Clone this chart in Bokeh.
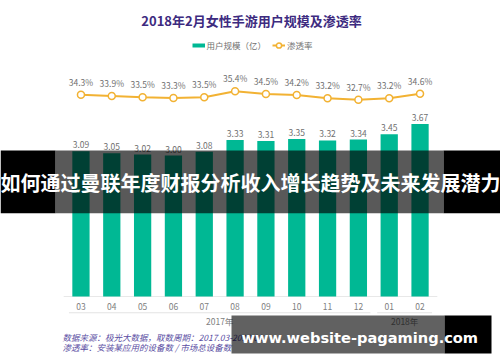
from bokeh.plotting import figure
from bokeh.models import (FactorRange, Range1d, ColumnDataSource, Label, BoxAnnotation,
                          Legend, LegendItem, GlobalInlineStyleSheet)
from bokeh.core.properties import value
from bokeh.embed import file_html
from bokeh.resources import INLINE

# ---------------- data ----------------
years = ["2017年"] * 10 + ["2018年"] * 2
months = ["03", "04", "05", "06", "07", "08", "09", "10", "11", "12", "01", "02"]
users = [3.09, 3.05, 3.02, 3.00, 3.08, 3.33, 3.31, 3.35, 3.32, 3.34, 3.45, 3.67]
rate = [34.3, 33.9, 33.5, 33.3, 33.5, 35.4, 34.5, 34.2, 33.2, 32.7, 33.2, 34.6]
groups = ["2017年", "2018年"]
group_sizes = [10, 2]

title_text = "2018年2月女性手游用户规模及渗透率"
legend_labels = ["用户规模（亿）", "渗透率"]
note_lines = ["数据来源：极光大数据，取数周期：2017.03-2018.02",
              "渗透率：安装某应用的设备数 / 市场总设备数"]
banner_text = "如何通过曼联年度财报分析收入增长趋势及未来发展潜力"
watermark_text = "www.website-pagaming.com"

# ---------------- layout ----------------
W, H = 500, 362
BASE_PX = 296.0      # bar baseline (px from top)
PX_PER_UNIT = 47.0   # bar scale
P_REF, P_PX, P_SLOPE = 35.4, 90.7, 3.19   # rate scale

GREEN = "#00b894"
ORANGE = "#f2b233"
GRAY = "#808080"
FONT = "Noto Sans CJK SC"

def sy(px):  # px from top -> screen units from bottom
    return H - px

factors = list(zip(years, months))
x_range = FactorRange(factors=factors, group_padding=0, factor_padding=0,
                      range_padding=2.11, range_padding_units="absolute")
y_range = Range1d(-(H - BASE_PX) / PX_PER_UNIT, BASE_PX / PX_PER_UNIT)
pct_range = Range1d(P_REF - (H - P_PX) / P_SLOPE, P_REF + P_PX / P_SLOPE)

p = figure(width=W, height=H, x_range=x_range, y_range=y_range,
           output_backend="svg", toolbar_location=None, min_border=0,
           x_axis_location=None, y_axis_location=None, outline_line_color=None,
           background_fill_color="white", border_fill_color="white")
p.extra_y_ranges = {"pct": pct_range}
p.xgrid.visible = False
p.ygrid.visible = False
p.stylesheets = [GlobalInlineStyleSheet(css="html,body{margin:0 !important;padding:0;overflow:hidden;}")]

src = ColumnDataSource(dict(x=factors, users=users, rate=rate,
                            ulab=[f"{v:.2f}" for v in users],
                            rlab=[f"{v:.1f}%" for v in rate],
                            month=months, zero=[0] * len(months)))

# baseline
p.segment(x0=[factors[0] + (-0.56,)], x1=[factors[-1] + (0.56,)], y0=[0], y1=[0],
          line_color="#e8e8e8", line_width=1)

# bars
p.vbar(x="x", top="users", width=0.56, source=src, fill_color=GREEN, line_color=None)
p.text(x="x", y="users", text="ulab", source=src, y_offset=-3,
       text_align="center", text_baseline="bottom", text_font=value(FONT),
       text_font_size="8.5px", text_color="#707070")

# rate line
line_r = p.line(x="x", y="rate", source=src, y_range_name="pct",
                line_color=ORANGE, line_width=2)
scat_r = p.scatter(x="x", y="rate", source=src, y_range_name="pct", size=7,
                   fill_color="white", line_color=ORANGE, line_width=1.5)
p.text(x="x", y="rate", text="rlab", source=src, y_range_name="pct", y_offset=-7,
       text_align="center", text_baseline="bottom", text_font=value(FONT),
       text_font_size="8.5px", text_color="#707070")

# category labels
p.text(x="x", y="zero", text="month", source=src, y_offset=10,
       text_align="center", text_baseline="middle", text_font=value(FONT),
       text_font_size="8.5px", text_color=GRAY)
# group underline + group labels
gsrc = ColumnDataSource(dict(g=groups, w=[n - 0.22 for n in group_sizes],
                             y=[-(312.3 - BASE_PX) / PX_PER_UNIT] * 2, zero=[0, 0]))
p.rect(x="g", y="y", width="w", height=1, height_units="screen", source=gsrc,
       fill_color="#e3e3e3", line_color=None)
p.text(x="g", y="zero", text="g", source=gsrc, y_offset=24,
       text_align="center", text_baseline="middle", text_font=value(FONT),
       text_font_size="8.5px", text_color=GRAY)

# legend (swatch renderer for the bar series, drawn off-range)
swatch = p.line(x=[factors[0], factors[1]], y=[float("nan"), float("nan")],
                line_color=GREEN, line_width=4)
legend = Legend(items=[LegendItem(label=legend_labels[0], renderers=[swatch]),
                       LegendItem(label=legend_labels[1], renderers=[line_r, scat_r])],
                orientation="horizontal", location=(191.5, sy(52)),
                padding=0, margin=0, spacing=6, glyph_width=13, glyph_height=14,
                label_standoff=2, label_text_font=FONT, label_text_font_size="8.5px",
                label_text_color="#707070", border_line_color=None,
                background_fill_alpha=0)
p.add_layout(legend)

# title
p.add_layout(Label(x=251, y=sy(20), x_units="screen", y_units="screen", text=title_text,
                   text_align="center", text_baseline="middle", text_font=FONT,
                   text_font_size="13px", text_font_style="bold", text_color="#3d2b80"))
# notes
for i, t in enumerate(note_lines):
    p.add_layout(Label(x=62, y=sy(336 + 10.5 * i), x_units="screen", y_units="screen",
                       text=t, text_align="left", text_baseline="middle", text_font=FONT,
                       text_font_size="8.5px", text_font_style="italic",
                       text_color="#5a4ea3"))

# banner overlay
for l, r, a in [(0, 55, 1.0), (55, 443, 0.65), (443, W, 1.0)]:
    p.add_layout(BoxAnnotation(left=l, right=r, top=sy(150), bottom=sy(212.7),
                               left_units="screen", right_units="screen",
                               top_units="screen", bottom_units="screen",
                               fill_color="black", fill_alpha=a, line_color=None))
p.add_layout(Label(x=W / 2, y=sy(182), x_units="screen", y_units="screen", text=banner_text,
                   text_align="center", text_baseline="middle", text_font=FONT,
                   text_font_size="20px", text_font_style="bold", text_color="white"))

# watermark
for l, r, a in [(231, 444, 0.62), (444, 491, 1.0)]:
    p.add_layout(BoxAnnotation(left=l, right=r, top=sy(315), bottom=sy(353),
                               left_units="screen", right_units="screen",
                               top_units="screen", bottom_units="screen",
                               fill_color="black", fill_alpha=a, line_color=None))
p.add_layout(Label(x=241, y=sy(336.5), x_units="screen", y_units="screen", text=watermark_text,
                   text_align="left", text_baseline="middle", text_font="DejaVu Sans",
                   text_font_size="14.6px", text_font_style="bold", text_color="white"))

open("out.html", "w").write(file_html(p, INLINE))
